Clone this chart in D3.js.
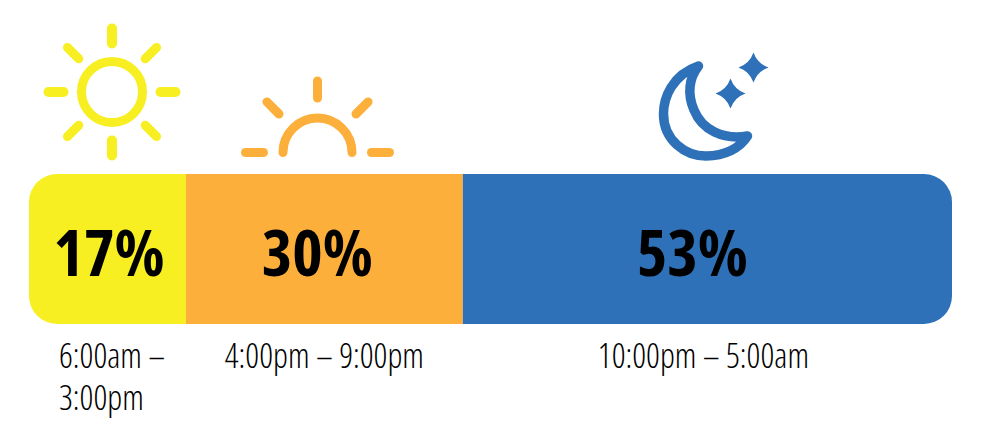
<!DOCTYPE html>
<html>
<head>
<meta charset="utf-8">
<script src="https://cdn.jsdelivr.net/npm/d3@7"></script>
<style>
    html, body {margin: 0; padding: 0; background: #fff; overflow: hidden;}
    text {font-family: "Open Sans", sans-serif; font-stretch: 75%;}
</style>
</head>
<body>
<svg id="chart" width="988" height="444"></svg>
<script>
const shares = [17, 30, 53]
const shareLabels = ["17%", "30%", "53%"]
const timeLabels = [["6:00am –", "3:00pm"], ["4:00pm – 9:00pm"], ["10:00pm – 5:00am"]]
const colors = ["#f7ef22", "#fdaf3b", "#2e71b8"]

const svg = d3.select("#chart")
const barTop = 174, barHeight = 150, barLeft = 29, barRight = 952

const x = d3.scaleLinear().domain([0, d3.sum(shares)]).range([barLeft, barRight])
const starts = [0, ...d3.cumsum(shares)]

// rounded ends of the whole bar
svg.append("clipPath").attr("id", "barClip")
    .append("rect")
    .attr("x", barLeft).attr("y", barTop)
    .attr("width", barRight - barLeft).attr("height", barHeight)
    .attr("rx", 28)

svg.append("g")
    .attr("clip-path", "url(#barClip)")
    .selectAll("rect")
    .data(shares)
    .enter()
    .append("rect")
    .attr("x", (d, i) => x(starts[i]))
    .attr("y", barTop)
    .attr("width", d => x(d) - x(0))
    .attr("height", barHeight)
    .style("fill", (d, i) => colors[i])

// percent labels, nudged off the segment centres like the original
const labelShift = [1.5, -7, -15]
svg.selectAll("text.share")
    .data(shareLabels)
    .enter()
    .append("text")
    .attr("class", "share")
    .attr("x", (d, i) => x(starts[i] + shares[i] / 2) + labelShift[i])
    .attr("y", 275.5)
    .attr("text-anchor", "middle")
    .style("font-size", "65px")
    .style("font-weight", 700)
    .style("fill", "#000")
    .text(d => d)

// time ranges under the bar
const timeShift = [5, 0, -4]
svg.selectAll("text.time")
    .data(timeLabels)
    .enter()
    .append("text")
    .attr("class", "time")
    .attr("text-anchor", (d, i) => i === 0 ? "start" : "middle")
    .attr("x", (d, i) => i === 0 ? x(0) + 30 : x(starts[i] + shares[i] / 2) + timeShift[i])
    .attr("y", 368)
    .style("font-size", "34px")
    .style("font-weight", 300)
    .style("fill", "#000")
    .selectAll("tspan")
    .data(d => d)
    .enter()
    .append("tspan")
    .attr("x", function () { return this.parentNode.getAttribute("x") })
    .attr("dy", (d, i) => i === 0 ? 0 : 42)
    .text(d => d)

const rays = (g, color, angles, from, to, width) => {
    g.append("g")
        .selectAll("line")
        .data(angles)
        .enter()
        .append("line")
        .attr("x1", d => from * Math.cos(d * Math.PI / 180))
        .attr("y1", d => from * Math.sin(d * Math.PI / 180))
        .attr("x2", d => to * Math.cos(d * Math.PI / 180))
        .attr("y2", d => to * Math.sin(d * Math.PI / 180))
        .attr("stroke", color)
        .attr("stroke-width", width)
        .attr("stroke-linecap", "round")
}

// sun
const sun = svg.append("g")
    .attr("transform", "translate(112,92)")
    .attr("fill", "none")
sun.append("circle").attr("r", 30.5).attr("stroke", colors[0]).attr("stroke-width", 9)
rays(sun, colors[0], [0, 90, 180, 270], 48.5, 63.5, 10)
rays(sun, colors[0], [45, 135, 225, 315], 47, 63, 9)

// sunset
const sunset = svg.append("g")
    .attr("transform", "translate(317.5,152.5)")
    .attr("fill", "none")
const sunArc = d3.path()
sunArc.arc(0, 0, 34.5, Math.PI, 0)
sunset.append("path")
    .attr("d", sunArc.toString())
    .attr("stroke", colors[1])
    .attr("stroke-width", 9)
    .attr("stroke-linecap", "round")
rays(sunset, colors[1], [0, 180], 54, 72, 9)
rays(sunset, colors[1], [270], 54.5, 71.5, 9)
rays(sunset, colors[1], [225, 315], 54.5, 71.5, 9)

// moon and stars
const night = svg.append("g").attr("transform", "translate(640,40)")
night.append("path")
    .attr("d", "M58.5,26 C32,35 23.5,58 23.5,74 C23.5,100 45,116 66,116 C85,116 100,108 107.5,96 C83,100 62,90 54,70 C47,54 49,38 58.5,26 Z")
    .attr("fill", "none")
    .attr("stroke", colors[2])
    .attr("stroke-width", 9.5)
    .attr("stroke-linejoin", "round")

const star = (cx, cy, r) => {
    const k = r * 0.26
    return `M${cx},${cy - r} Q${cx + k},${cy - k} ${cx + r},${cy} Q${cx + k},${cy + k} ${cx},${cy + r} Q${cx - k},${cy + k} ${cx - r},${cy} Q${cx - k},${cy - k} ${cx},${cy - r} Z`
}
night.selectAll("path.star")
    .data([[90.5, 53.5, 15], [113.5, 27.5, 15]])
    .enter()
    .append("path")
    .attr("class", "star")
    .attr("d", d => star(d[0], d[1], d[2]))
    .attr("fill", colors[2])
</script>
</body>
</html>
